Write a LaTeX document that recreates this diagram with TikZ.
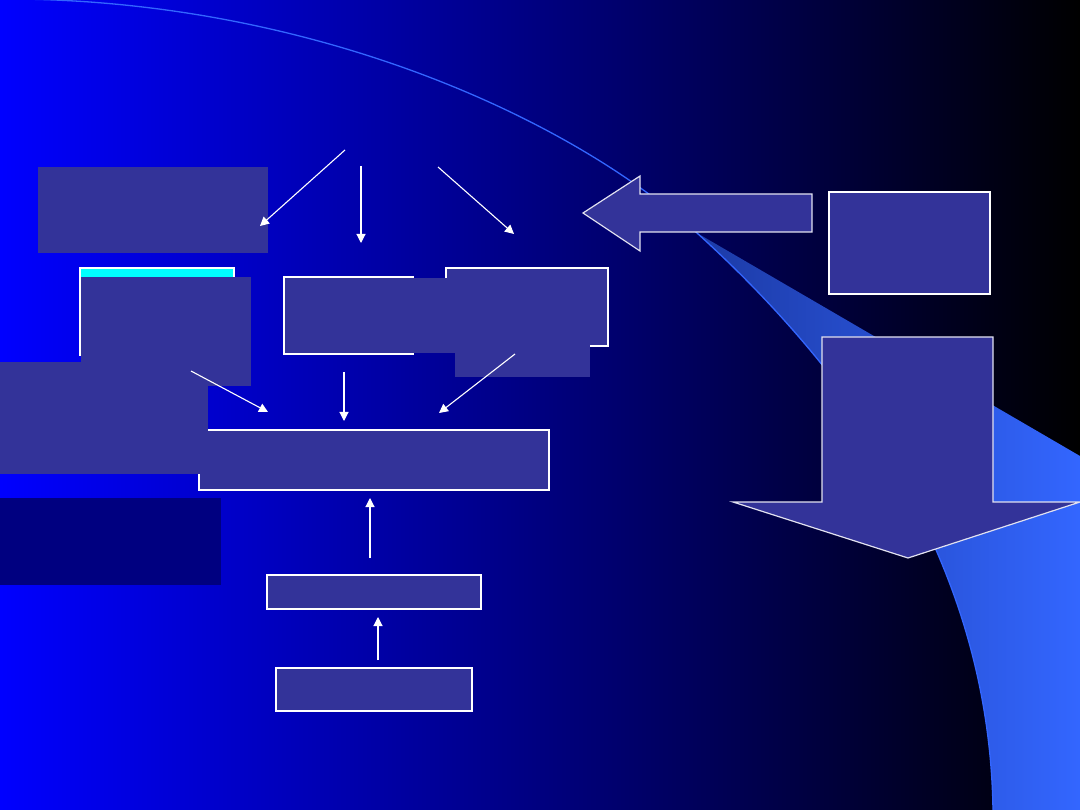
\documentclass[tikz,border=0pt]{standalone}
\usetikzlibrary{arrows.meta}
\definecolor{boxblue}{RGB}{51,51,153}
\definecolor{navybox}{RGB}{0,0,128}
\definecolor{aqua}{RGB}{0,255,255}
\definecolor{swooshlight}{RGB}{51,102,255}
\definecolor{swooshdark}{RGB}{28,58,165}
\definecolor{outl}{RGB}{225,225,240}
\begin{document}
\begin{tikzpicture}[x=1pt,y=-1pt,
  plain/.style={fill=boxblue, draw=none, inner sep=0pt, outer sep=0pt, anchor=north west},
  framed/.style={plain, draw=white, line width=1.3pt},
  conn/.style={draw=white, line width=1.1pt, -{Triangle[length=9pt,width=9pt]}},
  bigarrow/.style={fill=boxblue, draw=outl, line width=1.2pt, line join=miter}
]
\useasboundingbox (0,0) rectangle (1080,810);
% background
\shade[left color=blue, right color=black] (0,0) rectangle (1080,810);
% swoosh
\shade[left color=swooshdark, right color=swooshlight]
  (697,233) -- (1080,456) -- (1080,810) -- (993,810)
  .. controls (990,580) and (870,390) .. (697,233) -- cycle;
\draw[swooshlight, line width=1.3pt]
  (10,-1) .. controls (300,0) and (560,110) .. (697,233)
  .. controls (870,390) and (990,580) .. (993,811);

% left boxes
\node[plain, minimum width=230, minimum height=86] (A) at (38,167) {};
\node[framed, fill=aqua, minimum width=154, minimum height=87] (CY) at (80,268) {};
\node[plain, minimum width=170, minimum height=109] (B) at (81,277) {};
\node[framed, minimum width=129, minimum height=77] (F) at (284,277) {};
\node[framed, minimum width=162, minimum height=78] (H) at (446,268) {};
\node[plain, minimum width=48, minimum height=74.5] (G) at (412.3,278.5) {};
\node[plain, minimum width=135, minimum height=37] (I) at (455,340) {};
\node[framed, minimum width=350, minimum height=60] (D) at (199,430) {};
\node[plain, minimum width=208, minimum height=112] (C) at (0,362) {};
\node[plain, fill=navybox, minimum width=221, minimum height=87] (E) at (0,498) {};
\node[framed, minimum width=214, minimum height=34] (J) at (267,575) {};
\node[framed, minimum width=196, minimum height=43] (K) at (276,668) {};
\node[framed, minimum width=161, minimum height=102] (R) at (829,192) {};

% block arrows
\path[bigarrow] (583,213) -- (640,176) -- (640,194) -- (812,194) -- (812,232)
  -- (640,232) -- (640,251) -- cycle;
\path[bigarrow] (822,337) -- (993,337) -- (993,502) -- (1080,502) -- (908,558)
  -- (733,502) -- (822,502) -- cycle;

% connectors
\coordinate (s1) at (345,150); \coordinate (t1) at (260,226);
\coordinate (s2) at (361,166); \coordinate (t2) at (361,243);
\coordinate (s3) at (438,167); \coordinate (t3) at (514,234);
\coordinate (s4) at (191,371); \coordinate (t4) at (268,412);
\coordinate (s5) at (344,372); \coordinate (t5) at (344,421);
\coordinate (s6) at (515,354); \coordinate (t6) at (439,413);
\coordinate (s7) at (370,558); \coordinate (t7) at (370,498);
\coordinate (s8) at (378,660); \coordinate (t8) at (378,617);
\foreach \i in {1,...,8} { \draw[conn] (s\i) -- (t\i); }
\end{tikzpicture}
\end{document}
